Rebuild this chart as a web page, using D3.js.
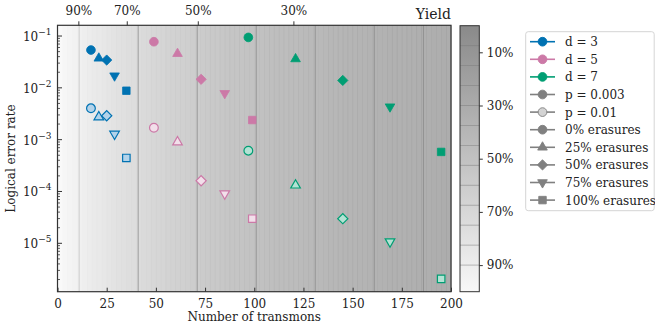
<!DOCTYPE html>
<html>
<head>
<meta charset="utf-8">
<script src="https://cdn.jsdelivr.net/npm/d3@7"></script>
<style>
  body { margin: 0; background: #fff; }
  text { font-family: "DejaVu Serif", serif; fill: #222; }
</style>
</head>
<body>
<script>
// data
var erasures = ['0%', '25%', '50%', '75%', '100%'];
var distances = ['d = 3', 'd = 5', 'd = 7'];
var transmonsD3 = [17, 21, 25, 29, 35];
var transmonsD5 = [49, 61, 73, 85, 99];
var transmonsD7 = [97, 121, 145, 169, 195];
var errD3p003 = [0.0537, 0.0388, 0.0344, 0.0164, 0.0088];
var errD5p003 = [0.0776, 0.0477, 0.0146, 0.0075, 0.00239];
var errD7p003 = [0.094, 0.0377, 0.0139, 0.00414, 0.00058];
var errD3p01 = [0.00403, 0.00286, 0.0029, 0.00123, 0.000443];
var errD5p01 = [0.0017, 0.00094, 0.000161, 8.67e-5, 2.98e-5];
var errD7p01 = [0.000612, 0.000138, 2.99e-5, 1.03e-5, 2.05e-6];
var yieldTickN = [10.6, 35.2, 71.3, 119.9];
var yieldTickLabels = ['90%', '70%', '50%', '30%'];
var contourN = [11, 41, 71, 101, 131, 161, 186];
var cbarTicks = [0.1, 0.3, 0.5, 0.7, 0.9];
var cbarLines = [0.075, 0.15, 0.225, 0.3, 0.375, 0.45, 0.525, 0.6, 0.675, 0.75, 0.825, 0.9];
var xTicks = [0, 25, 50, 75, 100, 125, 150, 175, 200];

var colors = ['#0072B2', '#CC79A7', '#009E73'];
var lightColors = ['#b3d3ea', '#f2dfea', '#b3e2d4'];

var width = 655, height = 333;
var plotLeft = 57.5, plotRight = 451, plotTop = 25.3, plotBottom = 291.7;

var svg = d3.select('body').append('svg')
    .attr('width', width)
    .attr('height', height);

var x = d3.scaleLinear().domain([0, 200]).range([plotLeft, plotRight]);
var y = d3.scaleLog().domain([1.164e-6, 0.161]).range([plotBottom, plotTop]);

// grey shade from yield
var shade = d3.scaleLinear().domain([0, 1]).range(['#8a8a8a', '#f8f8f8']);
function yieldOf(n) { return Math.pow(0.99, n); }

// background bands
var bands = d3.range(0, 200, 2.5);
svg.append('g').selectAll('rect')
    .data(bands)
    .enter()
    .append('rect')
        .attr('x', function (d) { return x(d); })
        .attr('y', plotTop)
        .attr('width', x(2.5) - x(0) + 0.5)
        .attr('height', plotBottom - plotTop)
        .attr('fill', function (d) { return shade(yieldOf(d + 1.25)); })
        .attr('opacity', 0.8);

svg.append('g').selectAll('line')
    .data(contourN)
    .enter()
    .append('line')
        .attr('x1', function (d) { return x(d); })
        .attr('x2', function (d) { return x(d); })
        .attr('y1', plotTop)
        .attr('y2', plotBottom)
        .attr('stroke', '#8c8c8c')
        .attr('stroke-width', 1)
        .attr('opacity', function (d, i) { return i === 0 ? 0.35 : 0.8; });

// markers
function symbolFor(i) {
    var types = [d3.symbolCircle, d3.symbolTriangle, d3.symbolSquare, d3.symbolTriangle, d3.symbolSquare];
    var sizes = [60, 40, 52, 40, 56];
    return d3.symbol().type(types[i]).size(sizes[i])();
}
function rotFor(i) {
    if (i === 2) return 45;
    if (i === 3) return 180;
    return 0;
}

var series = [
    { n: transmonsD3, e: errD3p003, c: 0, light: false },
    { n: transmonsD5, e: errD5p003, c: 1, light: false },
    { n: transmonsD7, e: errD7p003, c: 2, light: false },
    { n: transmonsD3, e: errD3p01, c: 0, light: true },
    { n: transmonsD5, e: errD5p01, c: 1, light: true },
    { n: transmonsD7, e: errD7p01, c: 2, light: true }
];

var pts = svg.append('g');
series.forEach(function (s) {
    pts.selectAll(null)
        .data(s.n.map(function (n, i) { return { n: n, e: s.e[i], k: i }; }))
        .enter()
        .append('path')
            .attr('d', function (d) { return symbolFor(d.k); })
            .attr('transform', function (d) {
                var yy = y(d.e) + (d.k === 1 ? 1 : d.k === 3 ? -1 : 0);
                return 'translate(' + x(d.n) + ',' + yy + ') rotate(' + rotFor(d.k) + ')';
            })
            .attr('fill', s.light ? lightColors[s.c] : colors[s.c])
            .attr('stroke', colors[s.c])
            .attr('stroke-width', s.light ? 1.2 : 0.8);
});

// spines
svg.append('rect')
    .attr('x', plotLeft).attr('y', plotTop)
    .attr('width', plotRight - plotLeft).attr('height', plotBottom - plotTop)
    .attr('fill', 'none')
    .attr('stroke', '#333')
    .attr('stroke-width', 1.2);

// bottom axis, ticks inward
var xAxis = svg.append('g')
    .attr('transform', 'translate(0,' + plotBottom + ')')
    .call(d3.axisBottom(x).tickValues(xTicks).tickSize(-4).tickPadding(8));
xAxis.select('.domain').remove();
xAxis.selectAll('text').style('font-family', '"DejaVu Serif", serif').style('font-size', '12px').attr('fill', '#222');
xAxis.selectAll('line').attr('stroke', '#333');

svg.append('text')
    .attr('x', (plotLeft + plotRight) / 2)
    .attr('y', 321)
    .attr('text-anchor', 'middle')
    .style('font-size', '12px')
    .text('Number of transmons');

// top yield axis, ticks outward
var xTop = svg.append('g')
    .attr('transform', 'translate(0,' + plotTop + ')')
    .call(d3.axisTop(x).tickValues(yieldTickN)
        .tickFormat(function (d, i) { return yieldTickLabels[i]; })
        .tickSize(4).tickPadding(6));
xTop.select('.domain').remove();
xTop.selectAll('text').style('font-family', '"DejaVu Serif", serif').style('font-size', '12px').attr('fill', '#222');
xTop.selectAll('line').attr('stroke', '#333');

svg.append('text')
    .attr('x', plotRight)
    .attr('y', 19)
    .attr('text-anchor', 'end')
    .style('font-size', '14px')
    .text('Yield');

// left log axis
var yAxis = svg.append('g').attr('transform', 'translate(' + plotLeft + ',0)');
var majors = [-5, -4, -3, -2, -1];
var minors = [];
for (var p = -6; p <= -1; p++) {
    for (var m = 2; m <= 9; m++) {
        var v = m * Math.pow(10, p);
        if (v >= y.domain()[0] && v <= y.domain()[1]) minors.push(v);
    }
}
yAxis.selectAll('.minor')
    .data(minors)
    .enter()
    .append('line')
        .attr('class', 'minor')
        .attr('x1', 0).attr('x2', 2.5)
        .attr('y1', function (d) { return y(d); })
        .attr('y2', function (d) { return y(d); })
        .attr('stroke', '#333').attr('stroke-width', 0.8);
yAxis.selectAll('.major')
    .data(majors)
    .enter()
    .append('line')
        .attr('class', 'major')
        .attr('x1', 0).attr('x2', 4.5)
        .attr('y1', function (d) { return y(Math.pow(10, d)); })
        .attr('y2', function (d) { return y(Math.pow(10, d)); })
        .attr('stroke', '#333').attr('stroke-width', 1);
var yl = yAxis.selectAll('.lab')
    .data(majors)
    .enter()
    .append('text')
        .attr('class', 'lab')
        .attr('x', -6)
        .attr('y', function (d) { return y(Math.pow(10, d)) + 5; })
        .attr('text-anchor', 'end')
        .style('font-size', '12px');
yl.append('tspan').text('10');
yl.append('tspan')
    .attr('dy', -6)
    .style('font-size', '9px')
    .text(function (d) { return '\u2212' + (-d); });

svg.append('text')
    .attr('transform', 'translate(15,' + ((plotTop + plotBottom) / 2) + ') rotate(-90)')
    .attr('text-anchor', 'middle')
    .style('font-size', '12px')
    .text('Logical error rate');

// colorbar
var cbX = 460, cbW = 19.3;
var cy = d3.scaleLinear().domain([0, 1]).range([25.7, 291.7]);
var defs = svg.append('defs');
var grad = defs.append('linearGradient')
    .attr('id', 'cbg')
    .attr('x1', 0).attr('y1', 0).attr('x2', 0).attr('y2', 1);
grad.append('stop').attr('offset', '0%').attr('stop-color', shade(0));
grad.append('stop').attr('offset', '100%').attr('stop-color', shade(1));
svg.append('rect')
    .attr('x', cbX).attr('y', cy(0))
    .attr('width', cbW).attr('height', cy(1) - cy(0))
    .attr('fill', 'url(#cbg)');
svg.append('g').selectAll('line')
    .data(cbarLines)
    .enter()
    .append('line')
        .attr('x1', cbX).attr('x2', cbX + cbW)
        .attr('y1', function (d) { return cy(d); })
        .attr('y2', function (d) { return cy(d); })
        .attr('stroke', '#7a7a7a')
        .attr('stroke-width', 0.8)
        .attr('opacity', 0.6);
svg.append('rect')
    .attr('x', cbX).attr('y', cy(0))
    .attr('width', cbW).attr('height', cy(1) - cy(0))
    .attr('fill', 'none')
    .attr('stroke', '#333')
    .attr('stroke-width', 1);
var cAxis = svg.append('g')
    .attr('transform', 'translate(' + (cbX + cbW) + ',0)')
    .call(d3.axisRight(cy).tickValues(cbarTicks)
        .tickFormat(function (d) { return Math.round(d * 100) + '%'; })
        .tickSize(3.5).tickPadding(4));
cAxis.select('.domain').remove();
cAxis.selectAll('text').style('font-family', '"DejaVu Serif", serif').style('font-size', '12px').attr('fill', '#222');
cAxis.selectAll('line').attr('stroke', '#333');

// legend
var legendItems = [];
distances.forEach(function (d, i) {
    legendItems.push({ label: d, color: colors[i], fill: colors[i], k: 0 });
});
legendItems.push({ label: 'p = 0.003', color: '#808080', fill: '#808080', k: 0 });
legendItems.push({ label: 'p = 0.01', color: '#808080', fill: '#d3d3d3', k: 0 });
erasures.forEach(function (e, i) {
    legendItems.push({ label: e + ' erasures', color: '#808080', fill: '#808080', k: i });
});

var lg = svg.append('g');
lg.append('rect')
    .attr('x', 525.7).attr('y', 31.7)
    .attr('width', 128.5).attr('height', 179)
    .attr('rx', 2.5)
    .attr('fill', '#fff')
    .attr('stroke', '#d0d0d0')
    .attr('stroke-width', 0.9);
var rows = lg.selectAll('.row')
    .data(legendItems)
    .enter()
    .append('g')
        .attr('class', 'row')
        .attr('transform', function (d, i) { return 'translate(0,' + (41.7 + i * 17.6) + ')'; });
rows.append('line')
    .attr('x1', 530).attr('x2', 555)
    .attr('stroke', function (d) { return d.color; })
    .attr('stroke-width', 1.6);
rows.append('path')
    .attr('d', function (d) { return symbolFor(d.k); })
    .attr('transform', function (d) { return 'translate(542.5,0) rotate(' + rotFor(d.k) + ')'; })
    .attr('fill', function (d) { return d.fill; })
    .attr('stroke', function (d) { return d.color; })
    .attr('stroke-width', 0.9);
rows.append('text')
    .attr('x', 565)
    .attr('y', 4.5)
    .style('font-size', '12px')
    .text(function (d) { return d.label; });
</script>
</body>
</html>
